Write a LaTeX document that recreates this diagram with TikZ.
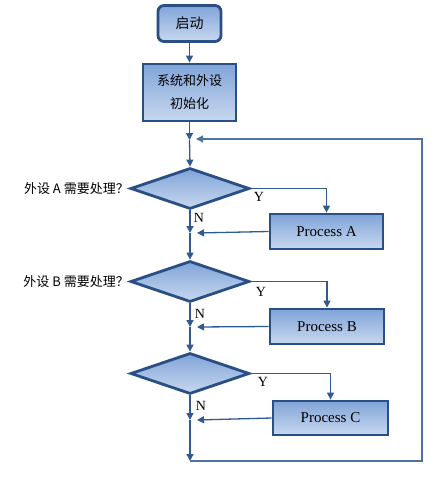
\documentclass[tikz,border=0pt]{standalone}
\usepackage{fontspec}
\setmainfont{Liberation Serif}
\newfontfamily\cjk{Noto Sans CJK SC}
\usetikzlibrary{shapes.geometric,arrows.meta}
\definecolor{bordc}{HTML}{2A4F84}
\definecolor{linec}{HTML}{2F5A92}
\definecolor{topc}{HTML}{80A4D8}
\definecolor{botc}{HTML}{C8D8EF}
\tikzset{
  boxstyle/.style={draw=bordc, line width=2.8pt, top color=topc, bottom color=botc, inner sep=0pt, align=center},
  procbox/.style={boxstyle, font=\fontsize{15}{18}\selectfont},
  decbox/.style={diamond, draw=bordc, line width=2.8pt, top color=topc, bottom color=botc, inner sep=0pt, minimum width=119pt, minimum height=41pt},
  conn/.style={draw=linec, line width=1.3pt, -{Triangle[length=7pt,width=7pt]}},
  loopconn/.style={draw=linec!85!white, line width=1.1pt, -{Triangle[length=7pt,width=7pt]}},
  yn/.style={font=\fontsize{14}{16}\selectfont, inner sep=0pt},
  qlabel/.style={font=\cjk\fontsize{13}{16}\selectfont, inner sep=0pt, anchor=east}
}
\begin{document}
\begin{tikzpicture}[x=1pt,y=-1pt]
\useasboundingbox (0,0) rectangle (443,477);
% nodes
\node[boxstyle, rounded corners=6pt, minimum width=63pt, minimum height=36pt, font=\cjk\fontsize{14}{16}\selectfont] (start) at (189.5,23.5) {启动};
\node[boxstyle, minimum width=93pt, minimum height=57pt, font=\cjk\fontsize{13}{23}\selectfont] (init) at (189.5,92.5) {系统和外设\\初始化};
\coordinate (j0) at (189.5,140);
\coordinate (j0in) at (196,139);
\node[decbox] (dA) at (190,188.5) {};
\node[decbox] (dB) at (190,281.5) {};
\node[decbox] (dC) at (190,373.5) {};
\node[procbox, minimum width=113pt, minimum height=35pt] (pA) at (326.5,231.5) {Process A};
\node[procbox, minimum width=114pt, minimum height=35pt] (pB) at (327,326.5) {Process B};
\node[procbox, minimum width=115pt, minimum height=34pt] (pC) at (330.5,418) {Process C};
\coordinate (mA) at (190,233);
\coordinate (mB) at (190,327);
\coordinate (mC) at (190,420);
\coordinate (mAin) at (197,233);
\coordinate (mBin) at (197,327);
\coordinate (mCin) at (197,420);
\coordinate (jb) at (190,461);
\coordinate (lr) at (422,461);
\coordinate (ur) at (422,139);
% labels
\node[qlabel] (qA) at (129,188.5) {外设 A 需要处理？};
\node[qlabel] (qB) at (129,281.5) {外设 B 需要处理？};
\node[yn] (yA) at (259,197) {Y};
\node[yn] (yB) at (261,292) {Y};
\node[yn] (yC) at (263,382) {Y};
\node[yn] (nA) at (199,218) {N};
\node[yn] (nB) at (200,314) {N};
\node[yn] (nC) at (201,406) {N};
% connectors
\draw[conn] (start) -- (init);
\draw[conn] (init) -- (j0);
\draw[conn] (j0) -- (dA.north);
\draw[conn] (dA.east) -| (pA.north);
\draw[conn] (dA.south) -- (mA);
\draw[conn] (pA.west) -- (mAin);
\draw[conn] (mA) -- (dB.north);
\draw[conn] (dB.east) -| (pB.north);
\draw[conn] (dB.south) -- (mB);
\draw[conn] (pB.west) -- (mBin);
\draw[conn] (mB) -- (dC.north);
\draw[conn] (dC.east) -| (pC.north);
\draw[conn] (dC.south) -- (mC);
\draw[conn] (pC.west) -- (mCin);
\draw[conn] (mC) -- (jb);
\draw[loopconn] (jb) -- (lr) -- (ur) -- (j0in);
\end{tikzpicture}
\end{document}
